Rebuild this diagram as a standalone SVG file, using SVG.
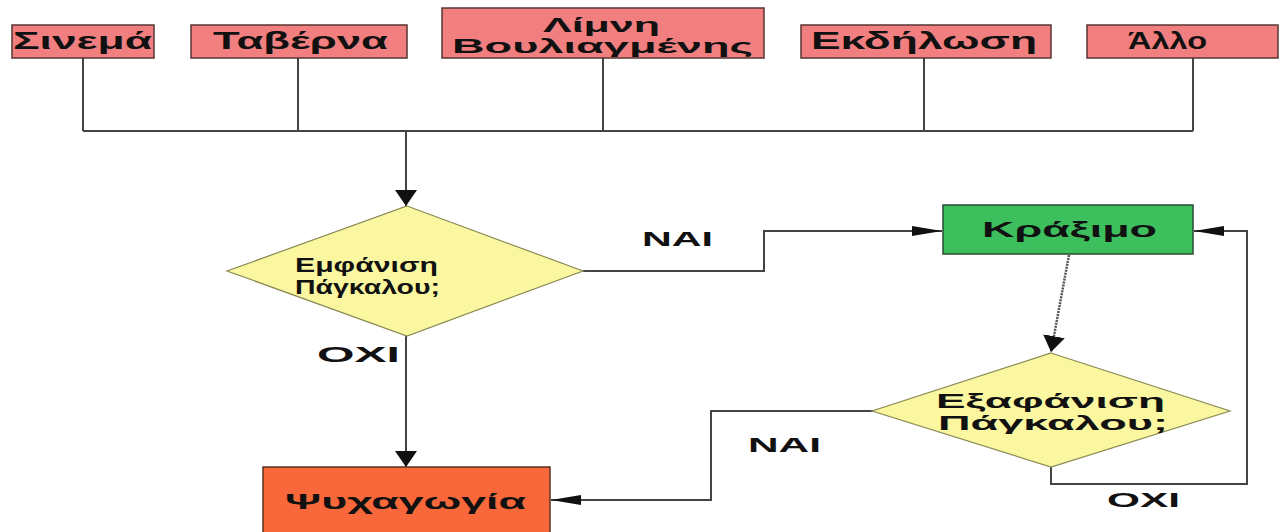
<svg xmlns="http://www.w3.org/2000/svg" width="1288" height="532" viewBox="0 0 1288 532">
  <style>
    text { font-family: "Liberation Sans", Arial, sans-serif; font-weight: bold; fill: #111; }
    .src { fill: #F27F7F; stroke: #5a3535; stroke-width: 1.5; }
    .green { fill: #3DBF5E; stroke: #2d4a33; stroke-width: 1.5; }
    .orange { fill: #F9683A; stroke: #5a3020; stroke-width: 1.5; }
    .dia { fill: #FAF7A0; stroke: #8a8a55; stroke-width: 1.2; }
    .ln { fill: none; stroke: #444; stroke-width: 2; }
    .dash { fill: none; stroke: #555; stroke-width: 2.5; stroke-dasharray: 2 1; }
  </style>
  <defs>
    <marker id="ah" markerUnits="userSpaceOnUse" markerWidth="32" markerHeight="12" refX="30" refY="5" orient="auto">
      <path d="M0,0 L30,5 L0,10 z" fill="#111"/>
    </marker>
    <marker id="av" markerUnits="userSpaceOnUse" markerWidth="18" markerHeight="24" refX="16" refY="11" orient="auto">
      <path d="M0,0 L16,11 L0,22 z" fill="#111"/>
    </marker>
  </defs>
  <rect width="1288" height="532" fill="#ffffff"/>

  <g id="connectors">
    <path class="ln" d="M83,58 V131 M298,58 V131 M603,58 V131 M924,58 V131 M1193,58 V131 M83,131 H1193"/>
    <path class="ln" d="M406,131 V206" marker-end="url(#av)"/>
    <path class="ln" d="M583,271 H764 V231 H942" marker-end="url(#ah)"/>
    <path class="ln" d="M406,336 V467" marker-end="url(#av)"/>
    <path class="dash" d="M1069,255 L1051,352" marker-end="url(#av)"/>
    <path class="ln" d="M1051,467 V484 H1247 V231 H1194" marker-end="url(#ah)"/>
    <path class="ln" d="M873,411 H711 V500 H551" marker-end="url(#ah)"/>
  </g>

  <g id="cinema">
    <rect class="src" x="12" y="25" width="142" height="33"/>
    <text x="13" y="49" font-size="24" textLength="139" lengthAdjust="spacingAndGlyphs">Σινεμά</text>
  </g>
  <g id="taverna">
    <rect class="src" x="191" y="25" width="216" height="33"/>
    <text x="213" y="49" font-size="24" textLength="175" lengthAdjust="spacingAndGlyphs">Ταβέρνα</text>
  </g>
  <g id="limni">
    <rect class="src" x="442" y="8" width="322" height="50"/>
    <text x="543" y="32" font-size="21" textLength="117" lengthAdjust="spacingAndGlyphs">Λίμνη</text>
    <text x="452" y="53" font-size="21" textLength="301" lengthAdjust="spacingAndGlyphs">Βουλιαγμένης</text>
  </g>
  <g id="ekdilosi">
    <rect class="src" x="801" y="25" width="250" height="33"/>
    <text x="811" y="49" font-size="24" textLength="226" lengthAdjust="spacingAndGlyphs">Εκδήλωση</text>
  </g>
  <g id="allo">
    <rect class="src" x="1087" y="25" width="191" height="33"/>
    <text x="1128" y="49" font-size="24" textLength="79" lengthAdjust="spacingAndGlyphs">Άλλο</text>
  </g>

  <g id="emfanisi">
    <polygon class="dia" points="407,206 583,271 407,336 227,271"/>
    <text x="295" y="272" font-size="21" textLength="143" lengthAdjust="spacingAndGlyphs">Εμφάνιση</text>
    <text x="295" y="294" font-size="21" textLength="145" lengthAdjust="spacingAndGlyphs">Πάγκαλου;</text>
  </g>

  <g id="kraksimo">
    <rect class="green" x="943" y="205" width="250" height="49"/>
    <text x="982" y="237" font-size="22" textLength="175" lengthAdjust="spacingAndGlyphs">Κράξιμο</text>
  </g>

  <g id="eksafanisi">
    <polygon class="dia" points="1051,353 1230,411 1051,467 872,411"/>
    <text x="936" y="408" font-size="20" textLength="229" lengthAdjust="spacingAndGlyphs">Εξαφάνιση</text>
    <text x="938" y="430" font-size="20" textLength="230" lengthAdjust="spacingAndGlyphs">Πάγκαλου;</text>
  </g>

  <g id="psychagogia">
    <rect class="orange" x="263" y="467" width="287" height="80"/>
    <text x="285" y="509" font-size="22" textLength="241" lengthAdjust="spacingAndGlyphs">Ψυχαγωγία</text>
  </g>

  <g id="labels">
    <text x="642" y="246" font-size="21" textLength="71" lengthAdjust="spacingAndGlyphs">NAI</text>
    <text x="317" y="362" font-size="22" textLength="83" lengthAdjust="spacingAndGlyphs">OXI</text>
    <text x="748" y="452" font-size="21" textLength="73" lengthAdjust="spacingAndGlyphs">NAI</text>
    <text x="1107" y="507" font-size="21" textLength="73" lengthAdjust="spacingAndGlyphs">OXI</text>
  </g>
</svg>
